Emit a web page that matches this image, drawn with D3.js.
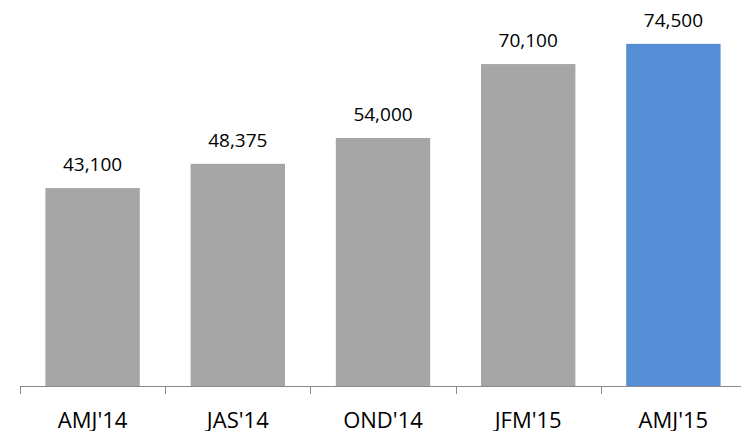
<!DOCTYPE html>
<html>
<head>
<meta charset="utf-8">
<script src="https://cdn.jsdelivr.net/npm/d3@7"></script>
<style>
  html, body { margin: 0; padding: 0; background: #fff; }
  svg { display: block; }
</style>
</head>
<body>
<div id="chart"></div>
<script>
// Quarterly totals, last quarter highlighted
const categories = ["AMJ'14", "JAS'14", "OND'14", "JFM'15", "AMJ'15"];
const values = [43100, 48375, 54000, 70100, 74500];
const highlight = [false, false, false, false, true];

const width = 741, height = 431;
const svg = d3.select("#chart").append("svg")
  .attr("width", width).attr("height", height);

const x = d3.scaleBand()
  .domain(categories)
  .range([20, 746])
  .paddingInner(0.35)
  .paddingOuter(0.175);

const y = d3.scaleLinear()
  .domain([0, 80000])
  .range([386, 18.6]);

const fmt = d3.format(",");
const data = categories.map((c, i) => ({ c, v: values[i], h: highlight[i] }));

svg.append("g").selectAll("rect")
  .data(data)
  .join("rect")
  .attr("x", d => x(d.c))
  .attr("y", d => y(d.v))
  .attr("width", x.bandwidth())
  .attr("height", d => y(0) - y(d.v))
  .attr("fill", d => d.h ? "#558ED5" : "#A6A6A6");

svg.append("g").selectAll("text")
  .data(data)
  .join("text")
  .attr("x", d => x(d.c) + x.bandwidth() / 2)
  .attr("y", d => y(d.v) - 17)
  .attr("text-anchor", "middle")
  .attr("font-family", "'Open Sans', sans-serif")
  .attr("font-size", 19)
  .attr("fill", "#000")
  .text(d => fmt(d.v));

// Category axis with ticks at band boundaries
const axisG = svg.append("g");
axisG.append("line")
  .attr("x1", x.range()[0]).attr("x2", x.range()[1])
  .attr("y1", y(0) + 0.5).attr("y2", y(0) + 0.5)
  .attr("stroke", "#898989").attr("stroke-width", 1);

const boundaries = categories.map(c => x(c) - x.step() * x.paddingInner() / 2);
boundaries.push(x.range()[1]);
axisG.selectAll("line.tick")
  .data(boundaries)
  .join("line")
  .attr("class", "tick")
  .attr("x1", d => Math.round(d) + 0.5).attr("x2", d => Math.round(d) + 0.5)
  .attr("y1", y(0)).attr("y2", y(0) + 8)
  .attr("stroke", "#898989").attr("stroke-width", 1);

axisG.selectAll("text")
  .data(categories)
  .join("text")
  .attr("x", d => x(d) + x.bandwidth() / 2)
  .attr("y", 428.3)
  .attr("text-anchor", "middle")
  .attr("font-family", "'Open Sans', sans-serif")
  .attr("font-size", 22)
  .attr("fill", "#000")
  .text(d => d);
</script>
</body>
</html>
